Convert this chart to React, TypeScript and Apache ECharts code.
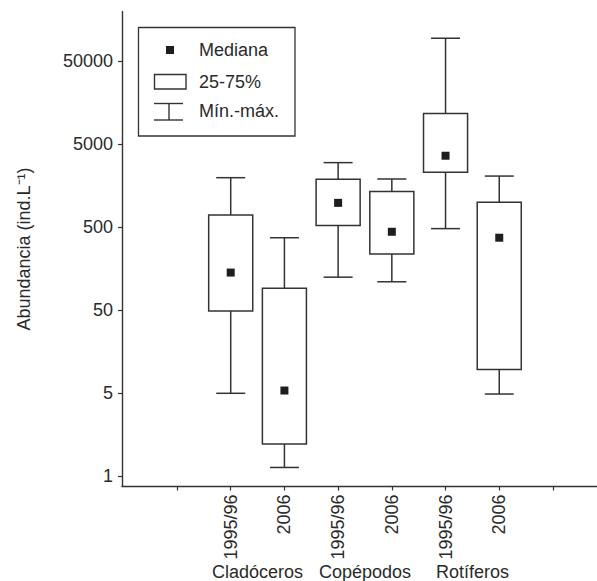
import React, { useEffect, useRef } from "react";
import * as echarts from "echarts";

const groupLabels = ["Cladóceros", "Copépodos", "Rotíferos"];
const periodLabels = ["1995/96", "2006", "1995/96", "2006", "1995/96", "2006"];
const minValues = [5, 0.64, 125, 110, 480, 4.9];
const q1Values = [49, 1.23, 525, 238, 2290, 9.7];
const medianValues = [142, 5.4, 980, 440, 3620, 373];
const q3Values = [700, 92, 1880, 1340, 11700, 995];
const maxValues = [1970, 373, 2990, 1900, 94000, 2060];
const yTickValues = [0.5, 5, 50, 500, 5000, 50000];
const yTickLabels = ["1", "5", "50", "500", "5000", "50000"];
const legendLabels = ["Mediana", "25-75%", "Mín.-máx."];
const yAxisTitle = "Abundancia (ind.L⁻¹)";

const FONT = "Liberation Sans, Arial, Helvetica, sans-serif";
const INK = "#2a2a2a";
const LINE = "#333333";

export default function App() {
  const ref = useRef<HTMLDivElement>(null);
  useEffect(() => {
    if (!ref.current) return;
    document.body.style.margin = "0";
    const chart = echarts.init(ref.current, null, { renderer: "svg" });
    const lg = Math.log10;
    const positions = periodLabels.map((_, i) => i + 2);
    const data = positions.map((p, i) => [
      p,
      lg(minValues[i]),
      lg(q1Values[i]),
      lg(medianValues[i]),
      lg(q3Values[i]),
      lg(maxValues[i]),
    ]);
    const yTickPos = yTickValues.map((v) => lg(v));
    const option: any = {
      animation: false,
      backgroundColor: "#ffffff",
      textStyle: { fontFamily: FONT, color: INK },
      grid: { left: 122, right: 0, top: 11.5, bottom: 94.5 },
      xAxis: [
        {
          type: "value",
          min: -0.024,
          max: 8.82,
          position: "bottom",
          splitLine: { show: false },
          axisLine: { show: true, onZero: false, lineStyle: { color: LINE, width: 1.4 } },
          axisTick: {
            show: true,
            length: 4,
            customValues: [1, 2, 3, 4, 5, 6, 7, 8],
            lineStyle: { color: LINE, width: 1.2 },
          },
          axisLabel: {
            customValues: positions,
            rotate: 90,
            margin: 8,
            fontSize: 18,
            fontFamily: FONT,
            color: INK,
            formatter: (v: number) => {
              const idx = Math.round(v) - 2;
              return periodLabels[idx] ?? "";
            },
          },
        },
        {
          type: "value",
          min: -0.024,
          max: 8.82,
          position: "bottom",
          splitLine: { show: false },
          axisLine: { show: false, onZero: false },
          axisTick: { show: false },
          axisLabel: {
            customValues: [2.5, 4.5, 6.5],
            margin: 76,
            fontSize: 18,
            fontFamily: FONT,
            color: INK,
            formatter: (v: number) => {
              const idx = Math.round((v - 2.5) / 2);
              return groupLabels[idx] ?? "";
            },
          },
        },
      ],
      yAxis: {
        type: "value",
        min: -0.423,
        max: 5.295,
        splitLine: { show: false },
        axisLine: { show: true, onZero: false, lineStyle: { color: LINE, width: 1.4 } },
        axisTick: {
          show: true,
          length: 4,
          customValues: yTickPos,
          lineStyle: { color: LINE, width: 1.2 },
        },
        axisLabel: {
          customValues: yTickPos,
          margin: 9,
          fontSize: 18,
          fontFamily: FONT,
          color: INK,
          formatter: (v: number) => {
            let best = 0;
            let bd = Infinity;
            yTickPos.forEach((t, i) => {
              const d = Math.abs(t - v);
              if (d < bd) {
                bd = d;
                best = i;
              }
            });
            return yTickLabels[best];
          },
        },
        name: yAxisTitle,
        nameLocation: "middle",
        nameRotate: 90,
        nameGap: 89,
        nameTextStyle: { fontSize: 18, fontFamily: FONT, color: INK },
      },
      series: [
        {
          type: "custom",
          xAxisIndex: 0,
          yAxisIndex: 0,
          data,
          encode: { x: 0, y: [1, 2, 3, 4, 5] },
          renderItem: (params: any, api: any) => {
            const x = api.value(0);
            const pMin = api.coord([x, api.value(1)]);
            const pQ1 = api.coord([x, api.value(2)]);
            const pMed = api.coord([x, api.value(3)]);
            const pQ3 = api.coord([x, api.value(4)]);
            const pMax = api.coord([x, api.value(5)]);
            const boxW = api.size([0.82, 0])[0];
            const capW = api.size([0.54, 0])[0];
            const cx = pMin[0];
            const ls = { stroke: LINE, lineWidth: 1.5, fill: null };
            return {
              type: "group",
              children: [
                { type: "line", shape: { x1: cx, y1: pMax[1], x2: cx, y2: pQ3[1] }, style: ls },
                { type: "line", shape: { x1: cx, y1: pQ1[1], x2: cx, y2: pMin[1] }, style: ls },
                { type: "line", shape: { x1: cx - capW / 2, y1: pMax[1], x2: cx + capW / 2, y2: pMax[1] }, style: ls },
                { type: "line", shape: { x1: cx - capW / 2, y1: pMin[1], x2: cx + capW / 2, y2: pMin[1] }, style: ls },
                {
                  type: "rect",
                  shape: { x: cx - boxW / 2, y: pQ3[1], width: boxW, height: pQ1[1] - pQ3[1] },
                  style: { stroke: LINE, lineWidth: 1.5, fill: "#ffffff" },
                },
                {
                  type: "rect",
                  shape: { x: cx - 4, y: pMed[1] - 4, width: 8, height: 8 },
                  style: { fill: "#1e1e1e", stroke: null },
                },
              ],
            };
          },
        },
      ],
      graphic: [
        {
          type: "rect",
          shape: { x: 138.5, y: 27.5, width: 156.5, height: 108.5 },
          style: { stroke: LINE, lineWidth: 1.3, fill: "#ffffff" },
        },
        {
          type: "rect",
          shape: { x: 166, y: 46, width: 8, height: 8 },
          style: { fill: "#1e1e1e" },
        },
        {
          type: "rect",
          shape: { x: 154.5, y: 74.5, width: 31.5, height: 14.5 },
          style: { stroke: LINE, lineWidth: 1.4, fill: "#ffffff" },
        },
        { type: "line", shape: { x1: 154, y1: 103.5, x2: 183, y2: 103.5 }, style: { stroke: LINE, lineWidth: 1.4 } },
        { type: "line", shape: { x1: 154, y1: 120, x2: 183, y2: 120 }, style: { stroke: LINE, lineWidth: 1.4 } },
        { type: "line", shape: { x1: 169, y1: 103.5, x2: 169, y2: 120 }, style: { stroke: LINE, lineWidth: 1.4 } },
        {
          type: "text",
          x: 199,
          y: 50,
          style: { text: legendLabels[0], font: `18px ${FONT}`, fill: INK, verticalAlign: "middle", align: "left" },
        },
        {
          type: "text",
          x: 199,
          y: 82,
          style: { text: legendLabels[1], font: `18px ${FONT}`, fill: INK, verticalAlign: "middle", align: "left" },
        },
        {
          type: "text",
          x: 199,
          y: 111,
          style: { text: legendLabels[2], font: `18px ${FONT}`, fill: INK, verticalAlign: "middle", align: "left" },
        },
      ],
    };
    chart.setOption(option);
    return () => chart.dispose();
  }, []);
  return (
    <div
      ref={ref}
      style={{ position: "absolute", left: 0, top: 0, width: 597, height: 581, background: "#fff" }}
    />
  );
}
